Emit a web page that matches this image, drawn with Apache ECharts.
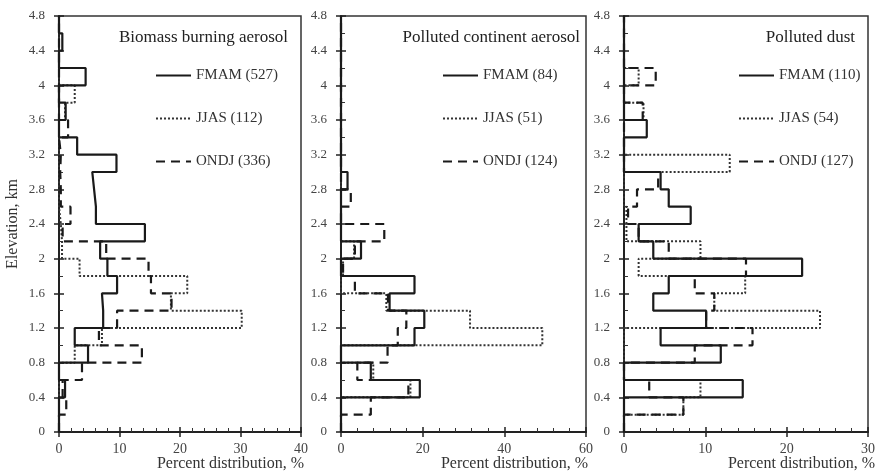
<!DOCTYPE html>
<html>
<head>
    <meta charset="utf-8"/>
    <title>Percent distribution by elevation</title>
    <script src="https://cdn.jsdelivr.net/npm/echarts@6/dist/echarts.min.js"></script>
    <style>
        html, body { margin: 0; padding: 0; background: #fff; }
        #main { width: 880px; height: 472px; }
    </style>
</head>
<body>
<div id="main"></div>
<script type="text/javascript">
    // elevation bins of 0.2 km, index 0 = 0-0.2 km ... index 23 = 4.6-4.8 km
    var binSize = 0.2;
    var yTicks = [0, 0.4, 0.8, 1.2, 1.6, 2, 2.4, 2.8, 3.2, 3.6, 4, 4.4, 4.8];

    // Biomass burning aerosol
    var bioFMAM = [0, 0, 1.0, 0, 4.8, 2.6, 7.3, 7.1, 9.6, 8.0, 6.8, 14.2, 6.1, 5.8, 5.5, 9.5, 3.0, 0, 1.1, 0, 4.4, 0, 0.55, 0];
    var bioJJAS = [0, 0, 0, 0, 2.6, 7.1, 30.2, 18.5, 21.2, 3.4, 0.5, 0.3, 0, 0, 0, 0, 0, 0, 1.0, 2.6, 0, 0, 0, 0];
    var bioONDJ = [0, 1.2, 0.6, 3.8, 13.7, 6.6, 9.6, 18.6, 15.2, 14.8, 7.8, 0.6, 1.9, 0.3, 0.2, 0.3, 0, 1.5, 0, 0, 0, 0, 0, 0];

    // Polluted continent aerosol
    var pcFMAM = [0, 0, 19.3, 7.3, 0, 18.0, 20.4, 11.9, 18.0, 0, 4.9, 0, 0, 0, 1.6, 0, 0, 0, 0, 0, 0, 0, 0, 0];
    var pcJJAS = [0, 0, 17.0, 7.9, 0, 49.3, 31.6, 11.1, 0, 0.5, 3.2, 0, 0, 0, 0, 0, 0, 0, 0, 0, 0, 0, 0, 0];
    var pcONDJ = [0, 7.3, 16.5, 4.0, 11.4, 13.9, 16.0, 11.5, 3.4, 0.5, 3.4, 10.6, 0, 2.4, 0, 0, 0, 0, 0, 0, 0, 0, 0, 0];

    // Polluted dust
    var pdFMAM = [0, 0, 14.6, 0, 11.9, 4.5, 10.1, 3.6, 5.5, 21.9, 3.6, 1.8, 8.2, 5.5, 4.5, 0, 0, 2.8, 0, 0, 0, 0, 0, 0];
    var pdJJAS = [0, 7.3, 9.4, 0, 0, 0, 24.1, 11.1, 14.9, 1.8, 9.4, 0.3, 0.3, 0, 0, 13.0, 0, 0, 2.4, 0, 1.8, 0, 0, 0];
    var pdONDJ = [0, 7.3, 3.1, 0, 8.7, 15.8, 10.1, 11.1, 8.7, 15.0, 5.5, 1.8, 0.5, 1.6, 4.2, 0, 0, 0, 2.3, 0, 3.9, 0, 0, 0];

    var panelTitles = ['Biomass burning aerosol', 'Polluted continent aerosol', 'Polluted dust'];
    var seasonNames = [
        ['FMAM (527)', 'JJAS (112)', 'ONDJ (336)'],
        ['FMAM (84)', 'JJAS (51)', 'ONDJ (124)'],
        ['FMAM (110)', 'JJAS (54)', 'ONDJ (127)']
    ];
    var xMax = [40, 60, 30];
    var xInterval = [10, 20, 10];

    var panelData = [
        [bioFMAM, bioJJAS, bioONDJ],
        [pcFMAM, pcJJAS, pcONDJ],
        [pdFMAM, pdJJAS, pdONDJ]
    ];

    // turn binned values into a vertical step profile (value, elevation)
    function stepProfile(vals) {
        var pts = [];
        for (var i = 0; i < vals.length; i++) {
            var y0 = +(i * binSize).toFixed(1);
            var y1 = +((i + 1) * binSize).toFixed(1);
            pts.push([vals[i], y0]);
            pts.push([vals[i], y1]);
        }
        return pts;
    }

    var serif = 'Liberation Serif, Times New Roman, serif';
    var gridLeft = [59, 341, 624];
    var gridWidth = [242, 245, 244];
    var legendLeft = [155, 442, 738];
    var titleRight = [592, 300, 25];
    var nameRight = [304, 588, 875];

    var lineStyles = [
        {color: '#1a1a1a', width: 2.2, type: 'solid'},
        {color: '#333', width: 2, type: 'dotted'},
        {color: '#1a1a1a', width: 2.2, type: [9, 6]}
    ];

    var grids = [], xAxes = [], yAxes = [], series = [], legends = [], titles = [], graphics = [];

    for (var p = 0; p < 3; p++) {
        grids.push({
            left: gridLeft[p], top: 16, width: gridWidth[p], height: 416,
            show: true, borderColor: '#333', borderWidth: 1.5, backgroundColor: 'transparent'
        });
        // main x axis: labels, inside ticks
        xAxes.push({
            type: 'value', gridIndex: p, min: 0, max: xMax[p], interval: xInterval[p],
            position: 'bottom',
            axisLine: {show: true, lineStyle: {color: '#222', width: 2}},
            axisTick: {show: true, inside: true, length: 5, lineStyle: {color: '#222', width: 1.5}},
            minorTick: {show: true, splitNumber: 5, length: 4, lineStyle: {color: '#333', width: 1}},
            axisLabel: {color: '#444', fontFamily: serif, fontSize: 14, margin: 10},
            splitLine: {show: false}
        });
        // second x axis: outside ticks only
        xAxes.push({
            type: 'value', gridIndex: p, min: 0, max: xMax[p], interval: xInterval[p],
            position: 'bottom',
            axisLine: {show: false},
            axisTick: {show: true, inside: false, length: 5, lineStyle: {color: '#222', width: 1.5}},
            axisLabel: {show: false},
            splitLine: {show: false}
        });
        yAxes.push({
            type: 'value', gridIndex: p, min: 0, max: 4.8, interval: 0.4,
            position: 'left',
            name: p === 0 ? 'Elevation, km' : '',
            nameLocation: 'middle', nameGap: 38,
            nameTextStyle: {color: '#333', fontFamily: serif, fontSize: 16},
            axisLine: {show: true, lineStyle: {color: '#222', width: 2}},
            axisTick: {show: true, inside: true, length: 5, lineStyle: {color: '#222', width: 1.5}},
            minorTick: {show: true, splitNumber: 2, length: 4, lineStyle: {color: '#333', width: 1}},
            axisLabel: {color: '#444', fontFamily: serif, fontSize: 13, margin: 14},
            splitLine: {show: false}
        });
        yAxes.push({
            type: 'value', gridIndex: p, min: 0, max: 4.8, interval: 0.4,
            position: 'left',
            axisLine: {show: false},
            axisTick: {show: true, inside: false, length: 5, lineStyle: {color: '#222', width: 1.5}},
            axisLabel: {show: false},
            splitLine: {show: false}
        });

        // dotted and dashed drawn first, solid on top
        var order = [1, 2, 0];
        for (var k = 0; k < 3; k++) {
            var s = order[k];
            series.push({
                name: seasonNames[p][s],
                type: 'line',
                xAxisIndex: p * 2,
                yAxisIndex: p * 2,
                data: stepProfile(panelData[p][s]),
                symbol: 'none',
                showSymbol: false,
                lineStyle: lineStyles[s],
                itemStyle: {color: lineStyles[s].color},
                z: s === 0 ? 5 : 3,
                silent: true,
                animation: false
            });
        }

        legends.push({
            data: seasonNames[p],
            orient: 'vertical',
            left: legendLeft[p],
            top: 68,
            itemWidth: 35,
            itemHeight: 14,
            itemGap: 28,
            padding: 0,
            itemStyle: {opacity: 0, borderWidth: 0},
            textStyle: {color: '#333', fontFamily: serif, fontSize: 15}
        });

        titles.push({
            text: panelTitles[p],
            right: titleRight[p],
            top: 29,
            padding: 0,
            textStyle: {color: '#222', fontFamily: serif, fontSize: 17, fontWeight: 'normal'}
        });

        graphics.push({
            type: 'text',
            right: 880 - nameRight[p],
            top: 456,
            style: {
                text: 'Percent distribution, %',
                fill: '#333',
                fontFamily: serif,
                fontSize: 16
            }
        });
    }

    var myChart = echarts.init(document.getElementById('main'), null, {renderer: 'canvas'});
    myChart.setOption({
        backgroundColor: '#fff',
        animation: false,
        title: titles,
        legend: legends,
        grid: grids,
        xAxis: xAxes,
        yAxis: yAxes,
        series: series,
        graphic: graphics
    });
</script>
</body>
</html>
